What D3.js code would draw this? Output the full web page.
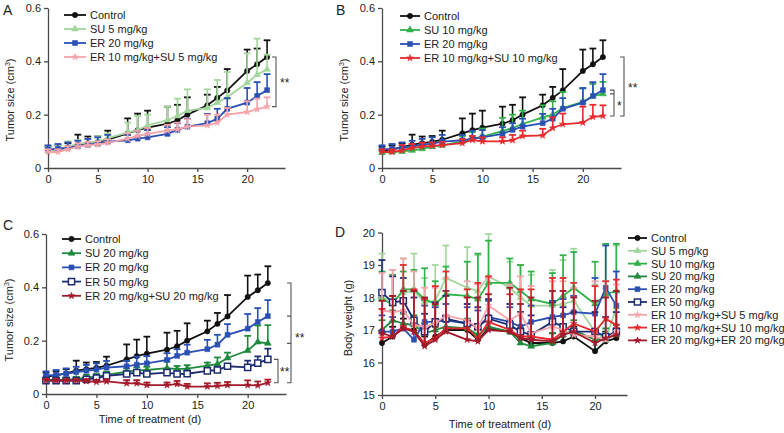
<!DOCTYPE html>
<html><head><meta charset="utf-8">
<script src="https://cdn.jsdelivr.net/npm/d3@7"></script>
<style>
body{margin:0;background:#fff;}
svg{display:block;font-family:"Liberation Sans",Arial,sans-serif;}
</style></head>
<body><svg id="chart" width="784" height="433"></svg>
<script>
// ---------- DATA ----------
const days = [0,1,2,3,4,5,6,8,9,10,12,13,14,16,17,18,20,21,22];
const xTicks = [0,5,10,15,20];
const tumorTicks = [0,0.2,0.4,0.6];
const weightTicks = [15,16,17,18,19,20];

// tumor size (cm3): means and upper error
const tControl   = [0.065,0.07,0.077,0.088,0.093,0.098,0.106,0.13,0.142,0.151,0.166,0.179,0.2,0.235,0.263,0.291,0.364,0.389,0.416];
const tControlSD = [0.015,0.015,0.016,0.037,0.025,0.022,0.034,0.056,0.062,0.064,0.064,0.058,0.065,0.04,0.041,0.08,0.08,0.059,0.063];
const tSU5   = [0.065,0.07,0.08,0.09,0.095,0.1,0.112,0.133,0.142,0.16,0.18,0.195,0.215,0.225,0.245,0.265,0.32,0.35,0.37];
const tSU5SD = [0.015,0.015,0.02,0.015,0.015,0.02,0.018,0.037,0.053,0.04,0.05,0.065,0.08,0.07,0.085,0.095,0.11,0.135,0.055];
const tER20   = [0.07,0.072,0.076,0.082,0.087,0.091,0.099,0.104,0.11,0.115,0.128,0.143,0.155,0.168,0.185,0.222,0.245,0.27,0.292];
const tER20SD = [0.015,0.018,0.02,0.02,0.022,0.024,0.025,0.02,0.03,0.027,0.025,0.025,0.03,0.035,0.037,0.04,0.055,0.052,0.06];
const tER10SU5   = [0.06,0.06,0.07,0.08,0.085,0.088,0.094,0.11,0.12,0.128,0.14,0.145,0.155,0.16,0.17,0.2,0.21,0.22,0.23];
const tER10SU5SD = [0.01,0.01,0.012,0.012,0.013,0.012,0.013,0.02,0.02,0.022,0.022,0.025,0.028,0.04,0.03,0.025,0.04,0.04,0.035];
const tSU10   = [0.058,0.06,0.062,0.066,0.072,0.08,0.085,0.1,0.11,0.118,0.138,0.15,0.165,0.19,0.2,0.225,0.248,0.27,0.278];
const tSU10SD = [0.012,0.012,0.013,0.014,0.015,0.015,0.015,0.02,0.025,0.03,0.05,0.05,0.05,0.045,0.05,0.06,0.05,0.045,0.045];
const tER10SU10   = [0.06,0.06,0.066,0.075,0.08,0.083,0.086,0.093,0.105,0.1,0.1,0.104,0.12,0.122,0.15,0.164,0.17,0.192,0.195];
const tER10SU10SD = [0.01,0.01,0.02,0.015,0.015,0.013,0.012,0.015,0.015,0.015,0.015,0.02,0.02,0.025,0.04,0.04,0.06,0.045,0.04];
const tSU20   = [0.053,0.053,0.054,0.056,0.062,0.065,0.072,0.084,0.088,0.09,0.097,0.093,0.095,0.106,0.112,0.135,0.163,0.195,0.19];
const tSU20SD = [0.008,0.008,0.008,0.008,0.01,0.01,0.012,0.012,0.012,0.012,0.025,0.012,0.013,0.012,0.025,0.02,0.055,0.062,0.068];
const tER50   = [0.05,0.05,0.05,0.05,0.055,0.06,0.068,0.075,0.08,0.075,0.08,0.075,0.076,0.087,0.09,0.104,0.1,0.116,0.13];
const tER50SD = [0.006,0.006,0.006,0.006,0.008,0.01,0.01,0.01,0.01,0.01,0.01,0.01,0.012,0.01,0.012,0.008,0.025,0.025,0.04];
const tER20SU20   = [0.05,0.05,0.05,0.05,0.048,0.045,0.047,0.04,0.04,0.033,0.033,0.037,0.028,0.028,0.03,0.033,0.033,0.032,0.042];
const tER20SU20SD = [0.006,0.006,0.006,0.006,0.008,0.008,0.008,0.012,0.012,0.01,0.01,0.012,0.01,0.012,0.012,0.012,0.018,0.015,0.012];

// body weight (g)
const wControl   = [16.6,16.8,17.05,17.0,16.55,16.8,17.0,17.0,16.7,17.05,16.95,16.75,16.6,16.6,16.65,16.8,16.35,16.65,16.75];
const wControlSD = [0.3,0.3,0.3,0.3,0.25,0.3,0.35,0.3,0.3,0.35,0.35,0.3,0.3,0.3,0.3,0.3,0.3,0.3,0.3];
const wSU5   = [18.0,17.9,18.15,18.2,17.85,17.9,18.6,18.3,18.2,18.65,18.3,18.0,17.75,17.75,17.8,17.9,16.95,16.7,17.7];
const wSU5SD = [1.35,0.95,1.05,1.15,0.75,1.1,1.0,1.25,1.1,1.3,0.8,1.0,0.95,1.1,1.35,1.6,1.45,1.3,1.9];
const wSU10   = [17.95,17.8,18.25,18.25,17.95,17.8,18.1,18.05,17.95,18.45,18.45,18.2,17.95,17.8,18.05,18.3,17.8,18.1,18.2];
const wSU10SD = [0.85,0.9,0.55,0.6,0.95,0.7,0.85,1.05,1.4,1.3,0.75,0.8,0.85,0.95,1.25,1.1,1.3,1.55,1.45];
const wSU20   = [17.0,17.3,17.2,17.15,16.9,17.0,17.1,17.05,16.85,17.1,16.95,16.6,16.5,16.6,16.85,17.0,16.7,16.75,16.85];
const wSU20SD = [0.3,0.3,0.3,0.3,0.3,0.3,0.3,0.3,0.3,0.3,0.3,0.3,0.3,0.3,0.3,0.3,0.3,0.3,0.3];
const wER20   = [16.95,16.95,17.05,16.7,17.25,17.25,17.3,17.2,17.1,17.4,17.25,17.1,17.25,17.4,17.45,17.55,17.5,18.3,17.75];
const wER20SD = [0.5,0.45,0.5,0.45,0.5,0.45,0.5,0.5,0.5,0.5,0.45,0.45,0.5,0.5,0.5,0.5,1.1,1.3,1.05];
const wER50   = [18.15,17.85,17.9,17.3,16.95,17.25,17.35,17.2,17.1,17.35,17.15,16.95,16.85,17.25,17.1,16.95,16.95,16.8,16.95];
const wER50SD = [1.0,0.8,0.7,0.7,0.55,0.6,0.7,0.6,0.6,0.6,0.65,0.6,0.6,0.6,0.6,0.6,0.6,0.6,0.6];
const wER10SU5   = [17.6,17.55,17.6,17.15,17.1,17.2,17.45,17.3,17.05,17.75,17.3,17.5,16.9,17.1,17.0,16.85,16.8,16.7,16.95];
const wER10SU5SD = [1.15,1.3,1.6,1.65,1.2,1.1,1.15,1.2,1.35,0.85,1.1,1.15,1.45,1.4,1.5,1.45,1.7,1.8,1.45];
const wER10SU10   = [16.75,16.8,17.1,16.95,16.6,16.75,17.05,17.05,16.75,17.25,17.0,16.8,16.8,16.7,16.95,17.2,16.95,17.35,17.15];
const wER10SU10SD = [0.9,1.25,1.9,1.3,1.35,1.6,1.75,1.2,1.7,1.4,1.1,1.45,1.45,1.9,1.65,1.25,1.4,1.15,1.4];
const wER20SU20   = [16.9,16.8,17.05,16.95,16.5,16.7,16.95,16.7,16.65,17.0,16.95,16.75,16.7,16.65,16.85,16.95,16.6,16.75,16.85];
const wER20SU20SD = [1.0,1.25,1.15,1.25,1.5,1.1,1.25,1.3,1.35,1.1,1.35,1.05,1.3,1.55,1.35,1.05,1.3,1.25,1.35];

// ---------- STYLES ----------
const C = {
  control:"#111111", su5:"#a3d69c", su10:"#2fb24a", su20:"#1f8a3d",
  er20:"#2b50b4", er50:"#1e2d72", er10su5:"#f4a4ab", er10su10:"#e62a2e", er20su20:"#a31a2b"
};
const svg = d3.select("#chart");
const FONT = 11;

function symbolFor(kind){
  switch(kind){
    case "circle": return d3.symbol().type(d3.symbolCircle).size(22);
    case "tri": return d3.symbol().type(d3.symbolTriangle).size(20);
    case "square": return d3.symbol().type(d3.symbolSquare).size(24);
    case "hollow": return d3.symbol().type(d3.symbolSquare).size(38);
    case "star": return d3.symbol().type(d3.symbolStar).size(14);
  }
}

function drawSeries(g, x, y, s){
  const grp = g.append("g");
  // error bars
  days.forEach((d,i)=>{
    const xx = x(d), y0 = y(s.v[i]), y1 = y(s.v[i]+s.e[i]);
    grp.append("line").attr("x1",xx).attr("x2",xx).attr("y1",y0).attr("y2",y1)
      .attr("stroke",s.c).attr("stroke-width",1.6);
    grp.append("line").attr("x1",xx-3.4).attr("x2",xx+3.4).attr("y1",y1).attr("y2",y1)
      .attr("stroke",s.c).attr("stroke-width",1.8);
  });
  const line = d3.line().x((d,i)=>x(days[i])).y(d=>y(d));
  grp.append("path").attr("d",line(s.v)).attr("fill","none").attr("stroke",s.c).attr("stroke-width",1.8);
  const sym = symbolFor(s.m);
  grp.selectAll(".pt").data(s.v).enter().append("path")
    .attr("transform",(d,i)=>`translate(${x(days[i])},${y(d)})`)
    .attr("d",sym())
    .attr("fill", s.m==="hollow" ? "#fff" : s.c)
    .attr("stroke", s.c).attr("stroke-width", s.m==="hollow"?1.5:0.6);
}

function drawLegend(g, x0, y0, dy, series, len){
  series.forEach((s,i)=>{
    const yy = y0 + i*dy;
    g.append("line").attr("x1",x0).attr("x2",x0+len).attr("y1",yy).attr("y2",yy)
      .attr("stroke",s.c).attr("stroke-width",1.8);
    g.append("path").attr("transform",`translate(${x0+len/2},${yy})`).attr("d",symbolFor(s.m)())
      .attr("fill", s.m==="hollow" ? "#fff" : s.c).attr("stroke",s.c).attr("stroke-width", s.m==="hollow"?1.5:0.6);
    g.append("text").attr("x",x0+len+4).attr("y",yy+4).attr("font-size",FONT).attr("fill","#222").text(s.name);
  });
}

function axes(g, x, y, yTicks, yFmt){
  const ax = g.append("g").attr("transform",`translate(0,${y.range()[0]})`)
    .call(d3.axisBottom(x).tickValues(xTicks).tickSize(4).tickPadding(3).tickSizeOuter(0));
  const ay = g.append("g").attr("transform",`translate(${x.range()[0]},0)`)
    .call(d3.axisLeft(y).tickValues(yTicks).tickFormat(yFmt).tickSize(4).tickPadding(3).tickSizeOuter(0));
  [ax,ay].forEach(a=>{
    a.selectAll("path,line").attr("stroke","#4a4a4a").attr("stroke-width",1.3);
    a.selectAll("text").attr("font-size",FONT).attr("fill","#222").attr("font-family","Liberation Sans, Arial, sans-serif");
  });
}

function tumorLabel(g, xc, yc){
  const t = g.append("text").attr("transform",`translate(${xc},${yc}) rotate(-90)`)
    .attr("text-anchor","middle").attr("font-size",FONT).attr("fill","#222");
  t.append("tspan").text("Tumor size (cm");
  t.append("tspan").text("3").attr("font-size",7).attr("dy",-4);
  t.append("tspan").text(")").attr("dy",4);
}

function letter(t, xx, yy){
  svg.append("text").attr("x",xx).attr("y",yy).attr("font-size",14).attr("fill","#222").text(t);
}

function bracket(g, xx, yTop, yBot, mids){
  const p = d3.path();
  p.moveTo(xx-4,yTop); p.lineTo(xx,yTop); p.lineTo(xx,yBot); p.lineTo(xx-4,yBot);
  (mids||[]).forEach(m=>{ p.moveTo(xx,m); p.lineTo(xx-4,m); });
  g.append("path").attr("d",p.toString()).attr("fill","none").attr("stroke","#555").attr("stroke-width",1.1);
}
function stars(g, xx, yy, txt){
  g.append("text").attr("x",xx).attr("y",yy+5).attr("font-size",12).attr("fill","#222").text(txt);
}

const tFmt = d => d===0 ? "0" : d3.format(".1f")(d);

// ---------- PANEL A ----------
{
  const g = svg.append("g");
  const x = d3.scaleLinear().domain([0,23.8]).range([48,285]);
  const y = d3.scaleLinear().domain([0,0.6]).range([168,8]);
  axes(g,x,y,tumorTicks,tFmt);
  const S = [
    {name:"Control", v:tControl, e:tControlSD, c:C.control, m:"circle"},
    {name:"SU 5 mg/kg", v:tSU5, e:tSU5SD, c:C.su5, m:"tri"},
    {name:"ER 20 mg/kg", v:tER20, e:tER20SD, c:C.er20, m:"square"},
    {name:"ER 10 mg/kg+SU 5 mg/kg", v:tER10SU5, e:tER10SU5SD, c:C.er10su5, m:"star"}
  ];
  S.forEach(s=>drawSeries(g,x,y,s));
  drawLegend(g,64,15,14,S,22);
  tumorLabel(g,14,100);
  bracket(g,276,y(tControl[18]),y(tER10SU5[18]));
  stars(g,280,(y(tControl[18])+y(tER10SU5[18]))/2,"**");
  letter("A",3,15);
}
// ---------- PANEL B ----------
{
  const g = svg.append("g");
  const x = d3.scaleLinear().domain([0,23.8]).range([382,621]);
  const y = d3.scaleLinear().domain([0,0.6]).range([168,8]);
  axes(g,x,y,tumorTicks,tFmt);
  const S = [
    {name:"Control", v:tControl, e:tControlSD, c:C.control, m:"circle"},
    {name:"SU 10 mg/kg", v:tSU10, e:tSU10SD, c:C.su10, m:"tri"},
    {name:"ER 20 mg/kg", v:tER20, e:tER20SD, c:C.er20, m:"square"},
    {name:"ER 10 mg/kg+SU 10 mg/kg", v:tER10SU10, e:tER10SU10SD, c:C.er10su10, m:"star"}
  ];
  S.forEach(s=>drawSeries(g,x,y,s));
  drawLegend(g,400,16,14,S,20);
  tumorLabel(g,348,100);
  bracket(g,624,y(tControl[18]),y(tER10SU10[18]));
  stars(g,628,(y(tControl[18])+y(tER10SU10[18]))/2,"**");
  bracket(g,614,y(tER20[18]),y(tER10SU10[18]),[y(tSU10[18])]);
  stars(g,617,(y(tER20[18])+y(tER10SU10[18]))/2+2,"*");
  letter("B",336,15);
}
// ---------- PANEL C ----------
{
  const g = svg.append("g");
  const x = d3.scaleLinear().domain([0,23.8]).range([46,286]);
  const y = d3.scaleLinear().domain([0,0.6]).range([394,234]);
  axes(g,x,y,tumorTicks,tFmt);
  const S = [
    {name:"Control", v:tControl, e:tControlSD, c:C.control, m:"circle"},
    {name:"SU 20 mg/kg", v:tSU20, e:tSU20SD, c:C.su20, m:"tri"},
    {name:"ER 20 mg/kg", v:tER20, e:tER20SD, c:C.er20, m:"square"},
    {name:"ER 50 mg/kg", v:tER50, e:tER50SD, c:C.er50, m:"hollow"},
    {name:"ER 20 mg/kg+SU 20 mg/kg", v:tER20SU20, e:tER20SU20SD, c:C.er20su20, m:"star"}
  ];
  S.forEach(s=>drawSeries(g,x,y,s));
  drawLegend(g,62,239,14.2,S,19);
  tumorLabel(g,13,320);
  bracket(g,291,y(tControl[18]),y(tER20SU20[18]),[y(tER20[18]),y(tSU20[18])]);
  stars(g,295,(y(tControl[18])+y(tER20SU20[18]))/2+4,"**");
  bracket(g,278,y(tER50[18]),y(tER20SU20[18]));
  stars(g,280,(y(tER50[18])+y(tER20SU20[18]))/2,"**");
  g.append("text").attr("x",150).attr("y",423).attr("text-anchor","middle").attr("font-size",FONT).attr("fill","#222").text("Time of treatment (d)");
  letter("C",3,230);
}
// ---------- PANEL D ----------
{
  const g = svg.append("g");
  const x = d3.scaleLinear().domain([0,23]).range([382,627]);
  const y = d3.scaleLinear().domain([15,20]).range([395,232.5]);
  axes(g,x,y,weightTicks,d=>d);
  const S = [
    {name:"Control", v:wControl, e:wControlSD, c:C.control, m:"circle"},
    {name:"SU 5 mg/kg", v:wSU5, e:wSU5SD, c:C.su5, m:"tri"},
    {name:"SU 10 mg/kg", v:wSU10, e:wSU10SD, c:C.su10, m:"tri"},
    {name:"SU 20 mg/kg", v:wSU20, e:wSU20SD, c:C.su20, m:"tri"},
    {name:"ER 20 mg/kg", v:wER20, e:wER20SD, c:C.er20, m:"square"},
    {name:"ER 50 mg/kg", v:wER50, e:wER50SD, c:C.er50, m:"hollow"},
    {name:"ER 10 mg/kg+SU 5 mg/kg", v:wER10SU5, e:wER10SU5SD, c:C.er10su5, m:"star"},
    {name:"ER 10 mg/kg+SU 10 mg/kg", v:wER10SU10, e:wER10SU10SD, c:C.er10su10, m:"star"},
    {name:"ER 20 mg/kg+ER 20 mg/kg", v:wER20SU20, e:wER20SU20SD, c:C.er20su20, m:"star"}
  ];
  S.forEach(s=>drawSeries(g,x,y,s));
  drawLegend(g,628,238,12.8,S,19);
  g.append("text").attr("transform","translate(352,318) rotate(-90)").attr("text-anchor","middle")
    .attr("font-size",FONT).attr("fill","#222").text("Body weight (g)");
  g.append("text").attr("x",500).attr("y",428).attr("text-anchor","middle").attr("font-size",FONT).attr("fill","#222").text("Time of treatment (d)");
  letter("D",335,237);
}
</script></body></html>
